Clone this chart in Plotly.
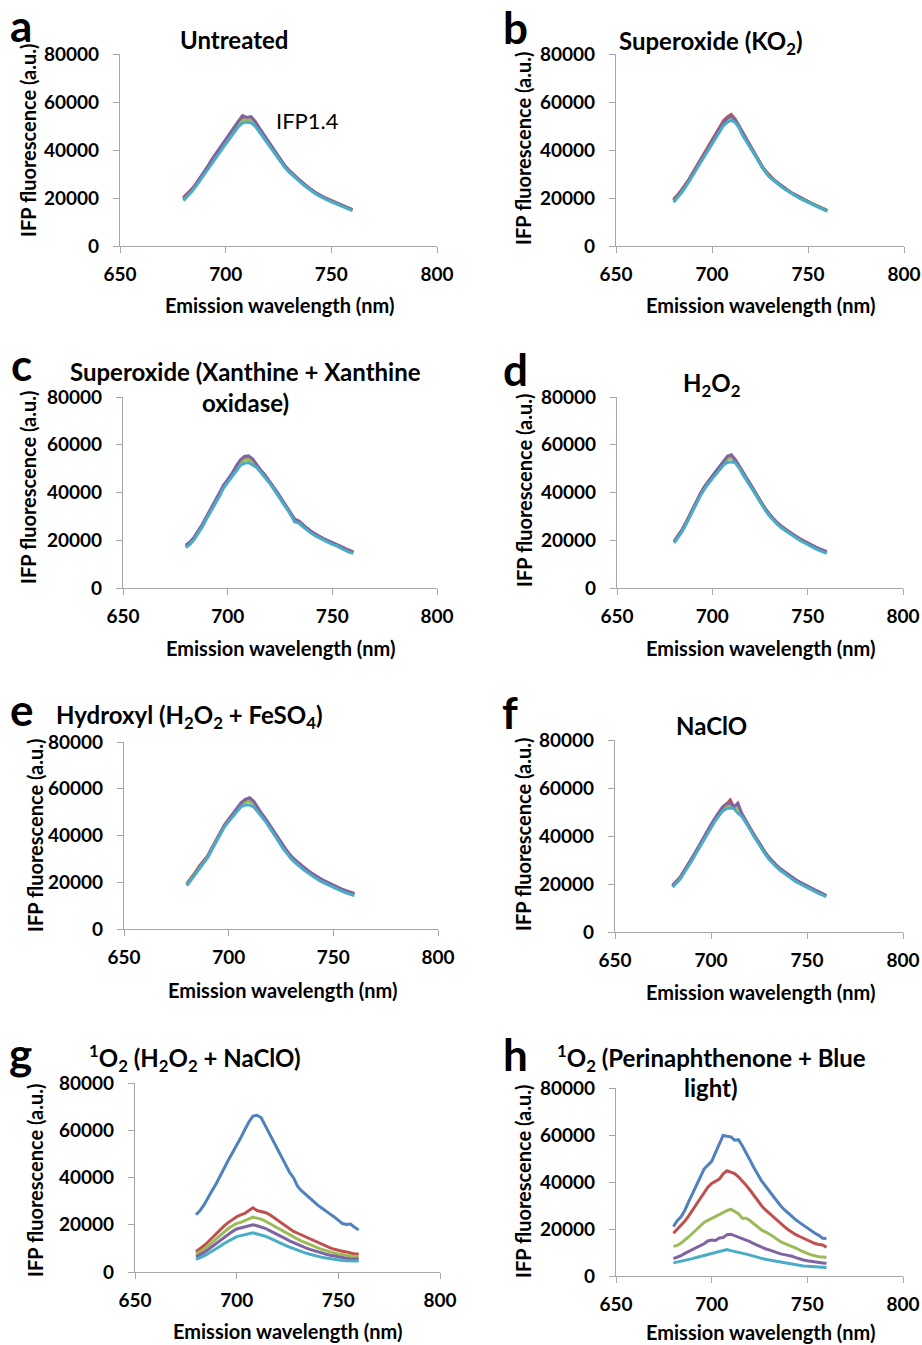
import plotly.graph_objects as go

W, H = 922, 1345

# ---------------- data ----------------
wavelength = list(range(680, 761, 2))
x_ticks = [650, 700, 750, 800]
y_ticks = [0, 20000, 40000, 60000, 80000]
series_colors = ["#4F81BD", "#C0504D", "#9BBB59", "#8064A2", "#4BACC6"]

# a  Untreated
A_blue = [19900,21600,23500,25700,28200,30700,33500,36300,38800,41500,43600,46000,48600,51200,53000,52800,52700,51000,48300,45800,43300,40700,38100,35500,33100,31200,29500,27900,26400,24900,23500,22300,21200,20200,19400,18600,17800,17100,16400,15700,15000]
A_red = [20300,21900,23700,26000,28400,30900,33700,36600,39100,41700,43900,46300,48900,51500,53800,53200,53300,51400,48700,46100,43600,40900,38300,35700,33300,31400,29700,28100,26600,25200,23800,22600,21500,20500,19700,18900,18100,17400,16700,16000,15200]
A_green = [19600,21300,23200,25500,27900,30300,33100,35800,38300,40900,43000,45300,47900,50300,52300,53000,52400,50800,48200,45600,43100,40500,38000,35400,33000,31100,29400,27800,26300,24900,23600,22400,21300,20400,19600,18800,18000,17200,16500,15800,15100]
A_purple = [19800,21500,23400,25800,28300,30900,33800,36700,39300,41900,44100,46600,49300,52000,54300,53600,53900,51900,49100,46500,43900,41200,38500,35900,33500,31500,29800,28200,26700,25200,23700,22500,21400,20400,19600,18800,18000,17300,16600,15900,15100]
A_cyan = [18900,20700,22700,25000,27500,30000,32800,35500,37900,40400,42500,44900,47300,49700,51200,51600,51300,49900,47500,45000,42600,40000,37500,35000,32700,30800,29100,27600,26100,24700,23300,22100,21000,20000,19200,18400,17600,16900,16200,15500,14700]

# b  Superoxide (KO2)
B_blue = [19300,20900,22800,25000,27500,30200,32900,35600,38300,41000,43400,46200,49000,51500,53200,53800,52600,49900,46600,43900,41100,38400,35800,33200,31000,29100,27600,26300,25100,23900,22800,21800,20900,20000,19200,18500,17700,16900,16100,15400,14700]
B_red = [19600,21200,23300,25400,27800,30600,33300,35900,38600,41300,43800,46700,49600,52200,53800,54800,53000,50200,46900,44200,41400,38600,36000,33400,31200,29300,27800,26500,25200,24000,22900,21900,21000,20100,19300,18600,17800,17000,16200,15500,14800]
B_green = [19000,20700,22500,24700,27100,29900,32600,35200,37900,40600,43100,45900,48600,51000,52700,53600,52900,50400,47000,44200,41300,38400,35700,33100,30900,29000,27600,26300,25100,23900,22800,21800,20900,20000,19200,18500,17700,16900,16100,15400,14700]
B_purple = [18900,20600,22700,24900,27400,30100,32800,35400,38100,40800,43300,46100,48900,51500,53300,54200,52700,49900,46500,43900,41100,38300,35700,33100,30900,29000,27600,26300,25100,23900,22800,21800,20900,20000,19200,18400,17600,16800,16000,15300,14600]
B_cyan = [18200,20000,22000,24300,26700,29400,32100,34700,37400,40000,42500,45200,47900,50200,51600,52300,51500,49300,46000,43400,40700,37900,35300,32800,30600,28700,27300,26000,24800,23600,22500,21500,20600,19700,18900,18200,17400,16600,15800,15100,14400]

# c  Superoxide (Xanthine + Xanthine oxidase)
C_blue = [17300,18800,20900,23500,26400,29700,32700,35800,38900,42500,44800,47200,50100,52500,54000,54300,53100,50800,48600,46700,44400,41800,39200,36500,34000,31400,28400,27700,26000,24600,23300,22200,21200,20300,19500,18700,18200,17100,16200,15400,14800]
C_red = [17500,19000,21100,23700,26600,29900,32900,36000,39100,42800,45100,47600,50600,53000,54500,54900,53500,51100,48900,47000,44700,42100,39500,36800,34300,31700,28700,27900,26200,24800,23500,22400,21400,20500,19700,18900,18300,17300,16400,15600,15000]
C_green = [17100,18600,20700,23300,26200,29500,32500,35600,38700,42300,44500,46900,49800,52200,53600,54000,52900,50700,48500,46600,44300,41700,39100,36400,33900,31300,28300,27600,25900,24500,23200,22100,21100,20200,19400,18600,18000,17000,16100,15300,14700]
C_purple = [17900,19300,21300,23900,26800,30100,33200,36300,39400,43000,45400,47900,51000,53600,55100,55400,54000,51500,49200,47200,44800,42200,39600,36900,34400,31800,28900,28100,26400,25000,23700,22500,21500,20600,19800,19000,18500,17400,16500,15700,15100]
C_cyan = [16900,18300,20300,22900,25800,29100,32100,35200,38300,41800,44200,46400,49200,51300,52200,52600,51400,50400,48300,46300,44000,41400,38800,36100,33600,30900,27700,27200,25600,24200,22900,21800,20800,19900,19100,18300,17700,16700,15800,15000,14500]

# d  H2O2
D_blue = [19300,21400,24000,26900,30200,33600,36800,39600,42300,44600,46500,48500,50600,52800,54400,55000,53400,50900,48100,45700,43300,40500,37900,35200,32800,30600,28800,27200,25800,24600,23500,22400,21400,20400,19500,18600,17800,17000,16300,15600,15000]
D_red = [19600,21700,24300,27200,30500,33900,37100,39900,42600,44900,46800,48800,50900,53100,54800,55300,53800,51300,48500,46000,43500,40700,38100,35400,33000,30800,29000,27400,26000,24800,23700,22600,21600,20600,19700,18800,18000,17200,16500,15800,15200]
D_green = [19100,21200,23700,26600,29900,33300,36500,39300,42000,44300,46200,48200,50300,52400,54000,54600,53000,50700,47900,45500,43100,40300,37700,35000,32600,30400,28600,27000,25600,24400,23300,22200,21200,20200,19300,18400,17600,16800,16100,15400,14800]
D_purple = [19400,21600,24200,27100,30400,33800,37000,39900,42600,44900,46900,49000,51100,53400,55300,55800,53700,51000,48200,45800,43400,40600,38000,35300,32900,30700,28900,27300,25900,24700,23600,22500,21500,20500,19600,18700,17900,17100,16400,15700,15100]
D_cyan = [18900,21000,23500,26400,29700,33100,36200,39000,41600,43900,45800,47700,49700,51600,52600,52900,52400,50300,47600,45200,42800,40000,37400,34700,32300,30100,28300,26700,25300,24100,23000,21900,20900,19900,19000,18100,17300,16500,15800,15100,14500]

# e  Hydroxyl (H2O2 + FeSO4)
E_blue = [19000,21400,23800,26500,28700,31000,34400,37800,41200,44200,46600,48900,51200,53500,54600,55300,53900,51000,48500,46200,43600,40700,37900,35100,32800,30600,28900,27300,25900,24500,23200,22100,21000,20100,19200,18300,17500,16700,16000,15300,14800]
E_red = [19400,21700,24200,26900,29100,31400,34800,38200,41600,44600,47000,49400,51700,54000,55300,56000,54400,51400,48900,46500,43900,41000,38200,35400,33100,30900,29200,27600,26200,24800,23500,22400,21300,20400,19500,18600,17800,17000,16300,15600,15200]
E_green = [18900,21200,23600,26300,28500,30800,34200,37600,41000,44000,46300,48600,50900,53100,54200,54700,53500,50800,48300,46000,43400,40500,37700,34900,32600,30400,28700,27100,25700,24300,23000,21900,20800,19900,19000,18100,17300,16500,15800,15100,14600]
E_purple = [18700,21100,23600,26300,28600,30900,34300,37700,41100,44200,46700,49100,51500,54100,55500,56200,54600,51600,49100,46700,44000,41100,38300,35500,33200,31000,29300,27700,26300,24900,23600,22500,21400,20500,19600,18700,17900,17100,16400,15700,15100]
E_cyan = [18600,21000,23400,26100,28300,30600,34000,37400,40800,43700,46000,48100,50400,52400,53000,53000,52200,50200,47800,45500,42900,40000,37200,34400,32100,29900,28200,26600,25200,23900,22600,21500,20400,19500,18600,17800,17000,16200,15500,14800,14300]

# f  NaClO
F_blue = [19200,20800,22600,25200,27600,30200,33000,35800,38800,41600,44200,46800,49200,51300,52600,53800,51800,52200,49000,46500,43500,40700,38100,35500,33100,30900,29100,27500,26100,24900,23700,22500,21500,20600,19700,18900,18100,17300,16500,15700,15000]
F_red = [19500,21100,22900,25500,27900,30500,33300,36100,39100,41900,44500,47100,49500,51700,53100,55000,52000,52500,49300,46700,43700,40900,38300,35700,33300,31100,29300,27700,26300,25100,23900,22700,21700,20800,19900,19100,18300,17500,16700,15900,15200]
F_green = [19000,20600,22400,25000,27400,30000,32800,35600,38600,41400,43900,46500,48900,51000,52300,53000,51500,52000,48800,46300,43400,40600,38000,35400,33000,30800,29000,27400,26000,24800,23600,22400,21400,20500,19600,18800,18000,17200,16400,15600,14900]
F_purple = [19300,20900,22800,25500,28000,30600,33400,36300,39300,42200,44800,47400,49900,52100,53400,53900,52200,53700,49500,46900,43900,41100,38500,35900,33500,31300,29500,27900,26500,25300,24100,22900,21900,20900,20000,19200,18400,17600,16800,16000,15200]
F_cyan = [18700,20400,22200,24700,27100,29700,32500,35300,38200,41000,43500,46000,48300,50300,51400,51700,51400,49500,48200,45900,43100,40300,37700,35100,32700,30500,28700,27100,25700,24500,23300,22100,21100,20200,19300,18500,17700,16900,16100,15300,14700]

# g  1O2 (H2O2 + NaClO)
G_blue = [24200,26000,28500,31800,34600,37500,41000,44200,47500,50600,53500,56800,60200,63500,66000,66300,65400,62000,59000,55800,52000,48600,45000,42200,39800,36200,34300,32700,31200,29500,28200,27000,25600,24500,23300,21800,20500,20100,20300,18900,17800]
G_red = [8600,9800,11200,12800,14600,16400,18000,19600,21000,22400,23400,24200,24800,26000,27200,26000,25600,25200,24400,23200,22000,20600,19400,18200,17200,16400,15600,14800,14000,13200,12400,11600,10900,10200,9600,9100,8800,8500,8000,7600,7600]
G_green = [7500,8500,9700,11100,12600,14200,15800,17200,18500,19600,20600,21000,21800,22600,23200,22800,22400,21600,20600,19600,18600,17600,16600,15600,14700,13900,13100,12300,11600,10900,10200,9600,9000,8500,8000,7600,7300,7000,6800,6600,6500]
G_purple = [6400,7300,8300,9500,10800,12100,13500,14800,16000,17200,18200,18700,19300,19800,20000,19600,19200,18500,17600,16800,15900,15000,14100,13200,12400,11600,10900,10200,9600,9000,8500,8000,7500,7100,6700,6300,6000,5800,5600,5500,5500]
G_cyan = [5300,6000,6800,7800,8800,9800,11000,12200,13200,14200,15000,15400,15800,16300,16600,16100,15800,15200,14400,13700,12900,12100,11300,10500,9800,9100,8500,8000,7500,7000,6600,6200,5900,5600,5300,5100,4900,4800,4700,4700,4700]

# h  1O2 (Perinaphthenone + Blue light)
H_blue = [21000,23500,25200,28000,31600,35300,38800,42000,45500,47000,48800,52500,56500,59800,59500,59200,57800,58000,55400,52600,49400,46200,43200,40600,38400,36200,34000,31800,29900,28200,26700,25200,23900,22700,21500,20300,19200,18200,17300,16100,16000]
H_red = [18200,19800,21600,23400,25600,28000,30400,32800,35600,37800,39400,40200,41200,43500,44800,44200,43600,42200,40600,38600,36600,34400,32000,30000,28200,26700,25200,23800,22400,21000,19700,18600,17600,16800,16000,15300,14600,13800,13400,13200,12200]
H_green = [12600,13000,14000,15200,16700,18200,19800,21400,22800,23700,24500,25500,26400,27200,27800,28400,27600,26500,24600,24600,23600,22200,20800,19600,18800,18000,16900,15700,14600,13900,13300,12700,11900,11000,10200,9600,9000,8500,8200,8100,8000]
H_purple = [7400,7900,8700,9600,10400,11100,12000,12800,13700,14900,15300,15100,16200,16400,17600,17800,17200,16600,16000,15300,14600,13800,13000,12200,11600,11100,10500,9900,9400,9100,8900,8400,7800,7200,6800,6500,6200,5900,5700,5500,5400]
H_cyan = [5600,5900,6300,6700,7000,7400,7900,8300,8700,9200,9600,9900,10300,10800,11300,10800,10500,10200,9800,9300,8900,8400,8000,7500,7100,6800,6500,6200,5800,5500,5300,5000,4800,4500,4300,4200,4100,4000,3900,3800,3600]

# ---------------- layout helpers ----------------
FONT = "Lato"
AXIS_GRAY = "#A6A6A6"

def px(x):
    return x / W

def py(y):
    return 1 - y / H

panels = [
    dict(letter="a", series=[A_blue, A_red, A_green, A_purple, A_cyan], xd=(120, 437), yd=(246, 54),
         letter_pos=(8, 25), title=[("Untreated", 234, 40)], xt=(279, 305), yt=(28, 140)),
    dict(letter="b", series=[B_blue, B_red, B_green, B_purple, B_cyan], xd=(616, 904), yd=(246, 54),
         letter_pos=(501, 27), title=[("Superoxide (KO<sub>2</sub>)", 711, 42)], xt=(760, 305), yt=(523, 148)),
    dict(letter="c", series=[C_blue, C_red, C_green, C_purple, C_cyan], xd=(123, 437), yd=(588, 397),
         letter_pos=(9, 364), title=[("Superoxide (Xanthine + Xanthine", 245, 371), ("oxidase)", 246, 402)],
         xt=(280, 648), yt=(28, 487)),
    dict(letter="d", series=[D_blue, D_red, D_green, D_purple, D_cyan], xd=(617, 903), yd=(588, 397),
         letter_pos=(501, 369), title=[("H<sub>2</sub>O<sub>2</sub>", 711, 385)], xt=(760, 648), yt=(524, 490)),
    dict(letter="e", series=[E_blue, E_red, E_green, E_purple, E_cyan], xd=(124, 438), yd=(929, 742),
         letter_pos=(8, 709), title=[("Hydroxyl (H<sub>2</sub>O<sub>2</sub> + FeSO<sub>4</sub>)", 189, 716)],
         xt=(282, 990), yt=(35, 835)),
    dict(letter="f", series=[F_blue, F_red, F_green, F_purple, F_cyan], xd=(615, 903), yd=(932, 740),
         letter_pos=(500, 712), title=[("NaClO", 711, 725)], xt=(760, 992), yt=(523, 834)),
    dict(letter="g", series=[G_blue, G_red, G_green, G_purple, G_cyan], xd=(135, 440), yd=(1272, 1083),
         letter_pos=(7, 1053), title=[("<sup>1</sup>O<sub>2</sub> (H<sub>2</sub>O<sub>2</sub> + NaClO)", 195, 1058)],
         xt=(287, 1331), yt=(35, 1180)),
    dict(letter="h", series=[H_blue, H_red, H_green, H_purple, H_cyan], xd=(616, 903), yd=(1276, 1088),
         letter_pos=(501, 1054), title=[("<sup>1</sup>O<sub>2</sub> (Perinaphthenone + Blue", 711, 1058), ("light)", 711, 1087)],
         xt=(760, 1332), yt=(523, 1181)),
]

fig = go.Figure()
annotations = []
layout_axes = {}

tick_font = dict(family=FONT, size=19, color="black", weight="bold")

for i, p in enumerate(panels):
    n = i + 1
    xa = "x" if n == 1 else f"x{n}"
    ya = "y" if n == 1 else f"y{n}"
    for s, c in zip(p["series"], series_colors):
        fig.add_trace(go.Scatter(x=wavelength, y=s, mode="lines",
                                 line=dict(color=c, width=3),
                                 xaxis=xa, yaxis=ya, showlegend=False,
                                 hoverinfo="skip"))
    common = dict(showline=True, linecolor=AXIS_GRAY, linewidth=1.3,
                  ticks="outside", ticklen=6, tickcolor=AXIS_GRAY, tickwidth=1.3,
                  showgrid=False, zeroline=False, tickfont=tick_font, fixedrange=True,
                  automargin=False)
    layout_axes["xaxis" if n == 1 else f"xaxis{n}"] = dict(
        domain=[px(p["xd"][0]), px(p["xd"][1])], range=[650, 800],
        tickvals=x_ticks, ticktext=[str(v) for v in x_ticks],
        anchor=ya, ticklabelstandoff=5, **common)
    layout_axes["yaxis" if n == 1 else f"yaxis{n}"] = dict(
        domain=[py(p["yd"][0]), py(p["yd"][1])], range=[0, 80000],
        tickvals=y_ticks, ticktext=[str(v) for v in y_ticks],
        anchor=xa, ticklabelstandoff=10, **common)

    # panel letter
    annotations.append(dict(text=f"<b>{p['letter']}</b>", x=px(p["letter_pos"][0]), y=py(p["letter_pos"][1]),
                            xref="paper", yref="paper", xanchor="left", yanchor="middle",
                            showarrow=False, font=dict(family=FONT, size=44, color="black")))
    # titles
    for (t, tx, ty) in p["title"]:
        annotations.append(dict(text=t, x=px(tx), y=py(ty), xref="paper", yref="paper",
                                xanchor="center", yanchor="middle", showarrow=False,
                                font=dict(family=FONT, size=24, color="black", weight="bold")))
    # axis titles
    annotations.append(dict(text="Emission wavelength (nm)", x=px(p["xt"][0]), y=py(p["xt"][1]),
                            xref="paper", yref="paper", xanchor="center", yanchor="middle",
                            showarrow=False, font=dict(family=FONT, size=20, color="black", weight="bold")))
    annotations.append(dict(text="IFP fluorescence (a.u.)", x=px(p["yt"][0]), y=py(p["yt"][1]),
                            xref="paper", yref="paper", xanchor="center", yanchor="middle", textangle=-90,
                            showarrow=False, font=dict(family=FONT, size=20, color="black", weight="bold")))

annotations.append(dict(text="IFP1.4", x=px(307), y=py(121), xref="paper", yref="paper",
                        xanchor="center", yanchor="middle", showarrow=False,
                        font=dict(family=FONT, size=22, color="black")))

fig.update_layout(width=W, height=H, margin=dict(l=0, r=0, t=0, b=0, autoexpand=False),
                  paper_bgcolor="white", plot_bgcolor="white",
                  annotations=annotations, showlegend=False, **layout_axes)

fig.write_html("out.html", config={"displayModeBar": False},
               post_script="document.body.style.margin='0';document.body.style.overflow='hidden';")
